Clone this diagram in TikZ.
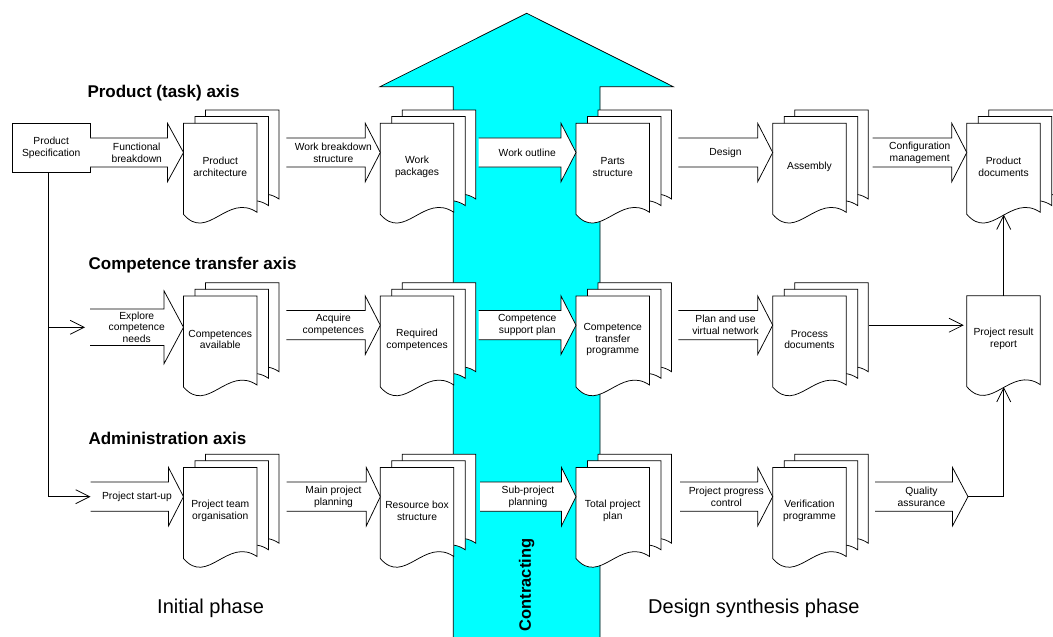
\documentclass[tikz,border=0pt]{standalone}
\usepackage{fontspec}
\setmainfont{Liberation Sans}
\usetikzlibrary{arrows.meta,calc}

\definecolor{contractcyan}{RGB}{0,255,255}

\tikzset{
  outline/.style={draw=black, line width=0.75pt, line join=miter},
  lbl/.style={font=\fontsize{10.3}{11.8}\selectfont, align=center, inner sep=0pt},
  axistitle/.style={font=\fontsize{17}{20}\selectfont\bfseries, inner sep=0pt, anchor=base west},
  phasetitle/.style={font=\fontsize{20}{24}\selectfont, inner sep=0pt, anchor=base west},
  conn/.style={draw=black, line width=0.75pt, -{Straight Barb[length=14pt,width=14pt,line width=0.75pt]}},
}

% one page of a document stack: top-left corner at (#1,#2), wavy lower edge
\newcommand\pageat[2]{%
  \filldraw[outline,fill=white] (#1,#2) -- ++(73.5,0) -- ++(0,89)
    .. controls +(-29.5,-20) and +(24,28) .. ++(-73.5,2) -- cycle;}

% stack of three pages: name, left x, top y, text
\newcommand\docstack[4]{%
  \begin{scope}[shift={(#2,#3)}]
    \pageat{22}{-13.3}
    \pageat{11.5}{-6.7}
    \pageat{0}{0}
    \node[inner sep=0pt, minimum width=73.5pt, minimum height=91pt, anchor=north west] (#1) at (0,0) {};
    \node[lbl] at (36.75,43.5) {#4};
  \end{scope}}

% block arrow: name, shaft start x, tip x, centre y, half shaft, half head, head length, label
\newcommand\blockarrow[8]{%
  \begin{scope}[shift={(#2,#4)}]
    \pgfmathsetmacro\baTx{#3-#2}
    \pgfmathsetmacro\baHx{#3-#2-#7}
    \fill[white] (0,-#5) -- (\baHx,-#5) -- (\baHx,-#6) -- (\baTx,0) -- (\baHx,#6) -- (\baHx,#5) -- (0,#5) -- cycle;
    \draw[outline] (0,-#5) -- (\baHx,-#5) -- (\baHx,-#6) -- (\baTx,0) -- (\baHx,#6) -- (\baHx,#5) -- (0,#5);
    \coordinate (#1) at (0,0);
    \coordinate (#1-tip) at (\baTx,0);
    \node[lbl] at ({\baTx/2},0) {#8};
  \end{scope}}

\begin{document}
\begin{tikzpicture}[x=1pt, y=-1pt]
\useasboundingbox (0,0) rectangle (1053,637);
\begin{scope}
\clip (0,0) rectangle (1053,637);

% contracting arrow
\fill[contractcyan] (453.3,645) -- (453.3,86.7) -- (380,86.7) -- (526.7,13.3)
  -- (673.3,86.7) -- (600,86.7) -- (600,645) -- cycle;
\draw[outline] (453.3,645) -- (453.3,86.7) -- (380,86.7) -- (526.7,13.3)
  -- (673.3,86.7) -- (600,86.7) -- (600,645);
\node[font=\fontsize{16.5}{19}\selectfont\bfseries, rotate=90, inner sep=0pt] (contract) at (526.7,585) {Contracting};

% axis titles
\node[axistitle] (tprod) at (87.3,97.3) {Product (task) axis};
\node[axistitle] (tcomp) at (88.5,269) {Competence transfer axis};
\node[axistitle] (tadm) at (88.3,444.3) {Administration axis};

% phase titles
\node[phasetitle] (pinit) at (157,613.3) {Initial phase};
\node[phasetitle] (psyn) at (648,613.3) {Design synthesis phase};

% product specification
\node[draw, line width=0.75pt, minimum width=78.3pt, minimum height=49.6pt, anchor=north west,
      inner sep=0pt, lbl] (spec) at (11.7,122.7) {Product\\Specification};

% product (task) axis
\docstack{d11}{183.5}{123.3}{Product\\architecture}
\docstack{d12}{380.3}{123.3}{Work\\packages}
\docstack{d13}{576}{123.3}{Parts\\structure}
\docstack{d14}{772.7}{123.3}{Assembly}
\docstack{d15}{966.8}{123.3}{Product\\documents}
\blockarrow{a11}{90}{183.5}{152.5}{14.6}{29.2}{16}{Functional\\breakdown}
\blockarrow{a12}{286.3}{380.3}{152.5}{14.6}{29.2}{15}{Work breakdown\\structure}
\blockarrow{a13}{478.5}{576}{152.5}{14.6}{29.2}{15}{Work outline}
\blockarrow{a14}{678.3}{772.7}{152.5}{14.6}{29.2}{15}{Design}
\blockarrow{a15}{872.7}{966.8}{152.5}{14.6}{29.2}{15}{Configuration\\management}

% competence transfer axis
\docstack{d21}{183.5}{296}{Competences\\available}
\docstack{d22}{380.3}{296}{Required\\competences}
\docstack{d23}{576}{296}{Competence\\transfer\\programme}
\docstack{d24}{772.7}{296}{Process\\documents}
\blockarrow{a21}{90}{183.5}{327.3}{18.3}{36.3}{19.4}{Explore\\competence\\needs}
\blockarrow{a22}{286.3}{380.3}{325.2}{14.6}{29.2}{15}{Acquire\\competences}
\blockarrow{a23}{478.5}{576}{325.2}{14.6}{29.2}{15}{Competence\\support plan}
\blockarrow{a24}{678.3}{772.7}{325.2}{14.6}{29.2}{15}{Plan and use\\virtual network}

% project result report (single page)
\begin{scope}[shift={(966.8,295.7)}]
  \pageat{0}{0}
  \node[inner sep=0pt, minimum width=73.5pt, minimum height=91pt, anchor=north west] (rep) at (0,0) {};
  \node[lbl] at (36.75,43.5) {Project result\\report};
\end{scope}

% administration axis
\docstack{d31}{183.5}{467.5}{Project team\\organisation}
\docstack{d32}{380.3}{467.5}{Resource box\\structure}
\docstack{d33}{576}{467.5}{Total project\\plan}
\docstack{d34}{772.7}{467.5}{Verification\\programme}
\blockarrow{a31}{90.5}{183.5}{496.7}{14.6}{29.2}{15}{Project start-up}
\blockarrow{a32}{286.7}{380.3}{496.7}{14.6}{29.2}{14}{Main project\\planning}
\blockarrow{a33}{480}{576}{496.7}{14.6}{29.2}{14.5}{Sub-project\\planning}
\blockarrow{a34}{680}{772.7}{496.7}{14.6}{29.2}{15}{Project progress\\control}
\blockarrow{a35}{875}{968}{496.7}{14.6}{29.2}{15.5}{Quality\\assurance}

% connectors
\coordinate (spine) at ([xshift=-2.4pt]spec.south);
\draw[conn] (spine) |- (a31);
\draw[conn, shorten >=5pt] (spine |- a21) -- (a21);
\coordinate (p24) at ($(d24.north east)+(22.5,29.2)$);
\draw[conn, shorten >=3pt] (p24) -- (p24 -| rep.west);
\draw[conn] (a35-tip) -| (rep.south);
\draw[conn] (rep.north) -- (d15.south);
\end{scope}
\end{tikzpicture}
\end{document}
